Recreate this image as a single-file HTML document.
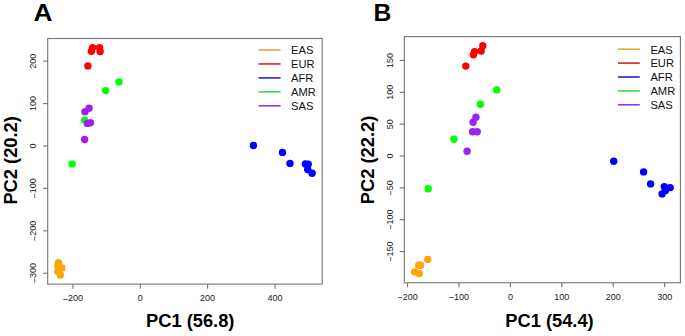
<!DOCTYPE html>
<html><head><meta charset="utf-8"><style>
html,body{margin:0;padding:0;background:#fff;}
body{width:685px;height:336px;overflow:hidden;}
svg{display:block;}
text{font-family:"Liberation Sans",sans-serif;}
.t{font-size:9.6px;fill:#1a1a1a;}
.l{font-size:10.5px;fill:#111;}
.x{font-size:18.3px;font-weight:bold;fill:#000;}
.p{font-size:24.7px;font-weight:bold;fill:#000;}
</style></head><body>
<svg width="685" height="336" viewBox="0 0 685 336">
<rect width="685" height="336" fill="#fff"/>
<rect x="47.7" y="38.5" width="274.50" height="245.60" fill="none" stroke="#757575" stroke-width="1.1"/>
<line x1="72.90" y1="284.1" x2="72.90" y2="288.70" stroke="#757575" stroke-width="1.1"/>
<text transform="translate(72.90,301.4) scale(0.94,1)" class="t" text-anchor="middle"><tspan dy="1.5">−</tspan><tspan dy="-1.5">200</tspan></text>
<line x1="140.30" y1="284.1" x2="140.30" y2="288.70" stroke="#757575" stroke-width="1.1"/>
<text transform="translate(140.30,301.4) scale(0.94,1)" class="t" text-anchor="middle">0</text>
<line x1="207.60" y1="284.1" x2="207.60" y2="288.70" stroke="#757575" stroke-width="1.1"/>
<text transform="translate(207.60,301.4) scale(0.94,1)" class="t" text-anchor="middle">200</text>
<line x1="275.00" y1="284.1" x2="275.00" y2="288.70" stroke="#757575" stroke-width="1.1"/>
<text transform="translate(275.00,301.4) scale(0.94,1)" class="t" text-anchor="middle">400</text>
<line x1="43.10" y1="273.23" x2="47.7" y2="273.23" stroke="#757575" stroke-width="1.1"/>
<text transform="translate(36.4,273.23) rotate(-90) scale(0.94,1)" class="t" text-anchor="middle"><tspan dy="1.5">−</tspan><tspan dy="-1.5">300</tspan></text>
<line x1="43.10" y1="230.82" x2="47.7" y2="230.82" stroke="#757575" stroke-width="1.1"/>
<text transform="translate(36.4,230.82) rotate(-90) scale(0.94,1)" class="t" text-anchor="middle"><tspan dy="1.5">−</tspan><tspan dy="-1.5">200</tspan></text>
<line x1="43.10" y1="188.41" x2="47.7" y2="188.41" stroke="#757575" stroke-width="1.1"/>
<text transform="translate(36.4,188.41) rotate(-90) scale(0.94,1)" class="t" text-anchor="middle"><tspan dy="1.5">−</tspan><tspan dy="-1.5">100</tspan></text>
<line x1="43.10" y1="146.00" x2="47.7" y2="146.00" stroke="#757575" stroke-width="1.1"/>
<text transform="translate(36.4,146.00) rotate(-90) scale(0.94,1)" class="t" text-anchor="middle">0</text>
<line x1="43.10" y1="103.59" x2="47.7" y2="103.59" stroke="#757575" stroke-width="1.1"/>
<text transform="translate(36.4,103.59) rotate(-90) scale(0.94,1)" class="t" text-anchor="middle">100</text>
<line x1="43.10" y1="61.18" x2="47.7" y2="61.18" stroke="#757575" stroke-width="1.1"/>
<text transform="translate(36.4,61.18) rotate(-90) scale(0.94,1)" class="t" text-anchor="middle">200</text>
<circle cx="58.5" cy="262.8" r="3.7" fill="#FFA500"/>
<circle cx="57.8" cy="266" r="3.7" fill="#FFA500"/>
<circle cx="61.9" cy="268.0" r="3.7" fill="#FFA500"/>
<circle cx="57.8" cy="271.5" r="3.7" fill="#FFA500"/>
<circle cx="60.4" cy="275.1" r="3.7" fill="#FFA500"/>
<circle cx="87.9" cy="65.9" r="3.7" fill="#FF0000"/>
<circle cx="92.6" cy="47.6" r="3.7" fill="#FF0000"/>
<circle cx="91.4" cy="51.3" r="3.7" fill="#FF0000"/>
<circle cx="99.6" cy="47.6" r="3.7" fill="#FF0000"/>
<circle cx="100.1" cy="51.5" r="3.7" fill="#FF0000"/>
<circle cx="253.4" cy="145.5" r="3.7" fill="#0000FF"/>
<circle cx="282.5" cy="152.4" r="3.7" fill="#0000FF"/>
<circle cx="290.0" cy="163.4" r="3.7" fill="#0000FF"/>
<circle cx="305.4" cy="163.9" r="3.7" fill="#0000FF"/>
<circle cx="308.2" cy="164.3" r="3.7" fill="#0000FF"/>
<circle cx="307.7" cy="169.5" r="3.7" fill="#0000FF"/>
<circle cx="312.1" cy="173.2" r="3.7" fill="#0000FF"/>
<circle cx="119" cy="81.9" r="3.7" fill="#00FF00"/>
<circle cx="105.6" cy="90.6" r="3.7" fill="#00FF00"/>
<circle cx="84.6" cy="120.1" r="3.7" fill="#00FF00"/>
<circle cx="72.1" cy="163.9" r="3.7" fill="#00FF00"/>
<circle cx="89.1" cy="108.3" r="3.7" fill="#A020F0"/>
<circle cx="85.0" cy="111.8" r="3.7" fill="#A020F0"/>
<circle cx="87.3" cy="123.4" r="3.7" fill="#A020F0"/>
<circle cx="90.4" cy="122.8" r="3.7" fill="#A020F0"/>
<circle cx="84.6" cy="139.5" r="3.7" fill="#A020F0"/>
<line x1="258.5" y1="50.00" x2="280.6" y2="50.00" stroke="#E8A838" stroke-width="1.6"/>
<text transform="translate(291.0,54.30) scale(1.065,1)" class="l">EAS</text>
<line x1="258.5" y1="63.95" x2="280.6" y2="63.95" stroke="#DC2222" stroke-width="1.6"/>
<text transform="translate(291.0,68.25) scale(1.065,1)" class="l">EUR</text>
<line x1="258.5" y1="77.90" x2="280.6" y2="77.90" stroke="#2424CC" stroke-width="1.6"/>
<text transform="translate(291.0,82.20) scale(1.065,1)" class="l">AFR</text>
<line x1="258.5" y1="91.85" x2="280.6" y2="91.85" stroke="#3CDC3C" stroke-width="1.6"/>
<text transform="translate(291.0,96.15) scale(1.065,1)" class="l">AMR</text>
<line x1="258.5" y1="105.80" x2="280.6" y2="105.80" stroke="#9238DC" stroke-width="1.6"/>
<text transform="translate(291.0,110.10) scale(1.065,1)" class="l">SAS</text>
<text x="190.2" y="327.1" class="x" text-anchor="middle">PC1 (56.8)</text>
<text transform="translate(16.8,160.4) rotate(-90)" class="x" text-anchor="middle">PC2 (20.2)</text>
<text transform="translate(33.6,20.7) scale(1.06,1)" class="p">A</text>
<rect x="404.3" y="36.6" width="276.10" height="246.15" fill="none" stroke="#757575" stroke-width="1.1"/>
<line x1="407.56" y1="282.75" x2="407.56" y2="287.35" stroke="#757575" stroke-width="1.1"/>
<text transform="translate(407.56,299.9) scale(0.94,1)" class="t" text-anchor="middle"><tspan dy="1.5">−</tspan><tspan dy="-1.5">200</tspan></text>
<line x1="458.98" y1="282.75" x2="458.98" y2="287.35" stroke="#757575" stroke-width="1.1"/>
<text transform="translate(458.98,299.9) scale(0.94,1)" class="t" text-anchor="middle"><tspan dy="1.5">−</tspan><tspan dy="-1.5">100</tspan></text>
<line x1="510.40" y1="282.75" x2="510.40" y2="287.35" stroke="#757575" stroke-width="1.1"/>
<text transform="translate(510.40,299.9) scale(0.94,1)" class="t" text-anchor="middle">0</text>
<line x1="561.82" y1="282.75" x2="561.82" y2="287.35" stroke="#757575" stroke-width="1.1"/>
<text transform="translate(561.82,299.9) scale(0.94,1)" class="t" text-anchor="middle">100</text>
<line x1="613.24" y1="282.75" x2="613.24" y2="287.35" stroke="#757575" stroke-width="1.1"/>
<text transform="translate(613.24,299.9) scale(0.94,1)" class="t" text-anchor="middle">200</text>
<line x1="664.66" y1="282.75" x2="664.66" y2="287.35" stroke="#757575" stroke-width="1.1"/>
<text transform="translate(664.66,299.9) scale(0.94,1)" class="t" text-anchor="middle">300</text>
<line x1="399.70" y1="251.52" x2="404.3" y2="251.52" stroke="#757575" stroke-width="1.1"/>
<text transform="translate(392.8,251.52) rotate(-90) scale(0.94,1)" class="t" text-anchor="middle"><tspan dy="1.5">−</tspan><tspan dy="-1.5">150</tspan></text>
<line x1="399.70" y1="219.68" x2="404.3" y2="219.68" stroke="#757575" stroke-width="1.1"/>
<text transform="translate(392.8,219.68) rotate(-90) scale(0.94,1)" class="t" text-anchor="middle"><tspan dy="1.5">−</tspan><tspan dy="-1.5">100</tspan></text>
<line x1="399.70" y1="187.84" x2="404.3" y2="187.84" stroke="#757575" stroke-width="1.1"/>
<text transform="translate(392.8,187.84) rotate(-90) scale(0.94,1)" class="t" text-anchor="middle"><tspan dy="1.5">−</tspan><tspan dy="-1.5">50</tspan></text>
<line x1="399.70" y1="156.00" x2="404.3" y2="156.00" stroke="#757575" stroke-width="1.1"/>
<text transform="translate(392.8,156.00) rotate(-90) scale(0.94,1)" class="t" text-anchor="middle">0</text>
<line x1="399.70" y1="124.16" x2="404.3" y2="124.16" stroke="#757575" stroke-width="1.1"/>
<text transform="translate(392.8,124.16) rotate(-90) scale(0.94,1)" class="t" text-anchor="middle">50</text>
<line x1="399.70" y1="92.32" x2="404.3" y2="92.32" stroke="#757575" stroke-width="1.1"/>
<text transform="translate(392.8,92.32) rotate(-90) scale(0.94,1)" class="t" text-anchor="middle">100</text>
<line x1="399.70" y1="60.48" x2="404.3" y2="60.48" stroke="#757575" stroke-width="1.1"/>
<text transform="translate(392.8,60.48) rotate(-90) scale(0.94,1)" class="t" text-anchor="middle">150</text>
<circle cx="427.8" cy="259.4" r="3.7" fill="#FFA500"/>
<circle cx="418.7" cy="265.3" r="3.7" fill="#FFA500"/>
<circle cx="420.6" cy="265.3" r="3.7" fill="#FFA500"/>
<circle cx="414.7" cy="271.9" r="3.7" fill="#FFA500"/>
<circle cx="419.4" cy="273.6" r="3.7" fill="#FFA500"/>
<circle cx="482.8" cy="45.8" r="3.7" fill="#FF0000"/>
<circle cx="481.2" cy="51.0" r="3.7" fill="#FF0000"/>
<circle cx="474.5" cy="51.8" r="3.7" fill="#FF0000"/>
<circle cx="473.4" cy="54.8" r="3.7" fill="#FF0000"/>
<circle cx="465.8" cy="66.1" r="3.7" fill="#FF0000"/>
<circle cx="613.7" cy="161.2" r="3.7" fill="#0000FF"/>
<circle cx="643.6" cy="171.9" r="3.7" fill="#0000FF"/>
<circle cx="650.6" cy="183.9" r="3.7" fill="#0000FF"/>
<circle cx="664.3" cy="186.7" r="3.7" fill="#0000FF"/>
<circle cx="670.2" cy="187.6" r="3.7" fill="#0000FF"/>
<circle cx="665.5" cy="190.5" r="3.7" fill="#0000FF"/>
<circle cx="662.1" cy="193.9" r="3.7" fill="#0000FF"/>
<circle cx="496.7" cy="89.9" r="3.7" fill="#00FF00"/>
<circle cx="480.4" cy="104.2" r="3.7" fill="#00FF00"/>
<circle cx="453.9" cy="139.2" r="3.7" fill="#00FF00"/>
<circle cx="428.2" cy="188.8" r="3.7" fill="#00FF00"/>
<circle cx="475.9" cy="117.3" r="3.7" fill="#A020F0"/>
<circle cx="473.1" cy="122.2" r="3.7" fill="#A020F0"/>
<circle cx="472.6" cy="131.7" r="3.7" fill="#A020F0"/>
<circle cx="477.2" cy="131.8" r="3.7" fill="#A020F0"/>
<circle cx="467.1" cy="151.2" r="3.7" fill="#A020F0"/>
<line x1="618.0" y1="49.20" x2="639.8" y2="49.20" stroke="#E8A838" stroke-width="1.6"/>
<text transform="translate(650.4,53.50) scale(1.065,1)" class="l">EAS</text>
<line x1="618.0" y1="63.10" x2="639.8" y2="63.10" stroke="#DC2222" stroke-width="1.6"/>
<text transform="translate(650.4,67.40) scale(1.065,1)" class="l">EUR</text>
<line x1="618.0" y1="77.00" x2="639.8" y2="77.00" stroke="#2424CC" stroke-width="1.6"/>
<text transform="translate(650.4,81.30) scale(1.065,1)" class="l">AFR</text>
<line x1="618.0" y1="90.90" x2="639.8" y2="90.90" stroke="#3CDC3C" stroke-width="1.6"/>
<text transform="translate(650.4,95.20) scale(1.065,1)" class="l">AMR</text>
<line x1="618.0" y1="104.80" x2="639.8" y2="104.80" stroke="#9238DC" stroke-width="1.6"/>
<text transform="translate(650.4,109.10) scale(1.065,1)" class="l">SAS</text>
<text x="549.5" y="326.5" class="x" text-anchor="middle">PC1 (54.4)</text>
<text transform="translate(374.2,159.95) rotate(-90)" class="x" text-anchor="middle">PC2 (22.2)</text>
<text transform="translate(373.4,20.6) scale(1.0,1)" class="p">B</text>
</svg>
</body></html>
